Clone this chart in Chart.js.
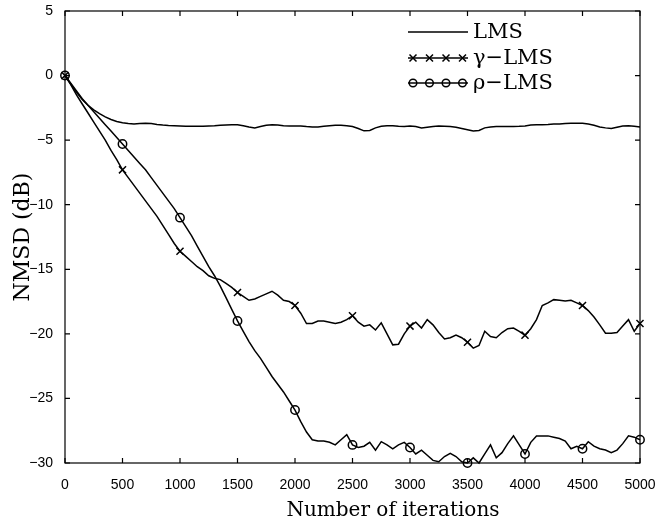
<!DOCTYPE html>
<html><head><meta charset="utf-8">
<script src="https://cdn.jsdelivr.net/npm/chart.js@4"></script>
<style>html,body{margin:0;padding:0;background:#fff}#wrap{width:657px;height:523px}</style>
</head><body><div id="wrap"><canvas id="c"></canvas></div>
<script>
const iterations = Array.from({length: 101}, (_, i) => i * 50);
const xTicks = [0,500,1000,1500,2000,2500,3000,3500,4000,4500,5000];
const yTicks = [5,0,-5,-10,-15,-20,-25,-30];
const seriesNames = ['LMS', '\u03B3\u2212LMS', '\u03C1\u2212LMS'];
const xTitle = 'Number of iterations';
const yTitle = 'NMSD (dB)';

const lms = [0,-0.65,-1.3,-1.85,-2.3,-2.65,-2.95,-3.2,-3.4,-3.55,-3.65,-3.72,-3.75,-3.72,-3.7,-3.72,-3.78,-3.83,-3.86,-3.88,
-3.9,-3.92,-3.93,-3.92,-3.93,-3.9,-3.88,-3.85,-3.82,-3.8,-3.8,-3.88,-3.98,-4.05,-3.95,-3.85,-3.8,-3.82,-3.88,-3.9,
-3.9,-3.9,-3.95,-3.98,-3.98,-3.92,-3.88,-3.85,-3.85,-3.88,-3.95,-4.1,-4.28,-4.25,-4.05,-3.92,-3.88,-3.88,-3.92,-3.95,
-3.9,-3.95,-4.05,-4.0,-3.95,-3.9,-3.92,-3.95,-4.0,-4.1,-4.2,-4.3,-4.25,-4.05,-3.98,-3.95,-3.95,-3.95,-3.95,-3.93,
-3.9,-3.82,-3.8,-3.8,-3.78,-3.75,-3.75,-3.72,-3.7,-3.7,-3.7,-3.75,-3.85,-3.98,-4.05,-4.1,-4.0,-3.9,-3.88,-3.92,-3.98];

const gammaLms = [0,-0.7,-1.5,-2.2,-2.9,-3.6,-4.3,-5.0,-5.8,-6.5,-7.3,-7.9,-8.5,-9.1,-9.7,-10.3,-10.9,-11.6,-12.3,-13.0,
-13.6,-14.0,-14.4,-14.8,-15.1,-15.5,-15.7,-15.8,-16.1,-16.4,-16.8,-17.1,-17.4,-17.3,-17.1,-16.9,-16.7,-17.0,-17.4,-17.5,
-17.8,-18.4,-19.2,-19.2,-19.0,-19.0,-19.1,-19.2,-19.1,-18.9,-18.6,-19.1,-19.4,-19.3,-19.7,-19.15,-20.0,-20.85,-20.8,-20.0,
-19.4,-19.1,-19.55,-18.9,-19.3,-19.9,-20.4,-20.3,-20.1,-20.3,-20.65,-21.1,-20.9,-19.8,-20.2,-20.3,-19.9,-19.6,-19.55,-19.8,
-20.1,-19.6,-18.9,-17.8,-17.6,-17.35,-17.4,-17.45,-17.4,-17.6,-17.8,-18.2,-18.7,-19.3,-19.95,-19.95,-19.9,-19.4,-18.9,-19.8,-19.2];

const rhoLms = [0,-0.6,-1.2,-1.8,-2.3,-2.8,-3.3,-3.8,-4.3,-4.8,-5.3,-5.8,-6.3,-6.8,-7.3,-7.9,-8.5,-9.1,-9.7,-10.3,
-11.0,-11.7,-12.4,-13.2,-14.0,-14.8,-15.5,-16.3,-17.2,-18.1,-19.0,-19.8,-20.6,-21.3,-21.9,-22.6,-23.3,-23.9,-24.5,-25.2,
-25.9,-26.8,-27.6,-28.2,-28.3,-28.3,-28.4,-28.6,-28.2,-27.8,-28.6,-28.8,-28.7,-28.4,-29.0,-28.35,-28.6,-28.9,-28.6,-28.4,
-28.8,-29.3,-29.0,-29.4,-29.8,-29.9,-29.5,-29.25,-29.5,-29.9,-30.0,-29.6,-30.0,-29.3,-28.6,-29.6,-29.2,-28.5,-27.9,-28.6,
-29.3,-28.4,-27.9,-27.9,-27.9,-28.0,-28.1,-28.3,-28.9,-28.7,-28.9,-28.35,-28.7,-28.9,-29.0,-29.2,-29.0,-28.5,-27.9,-28.0,-28.2];

const toXY = arr => arr.map((v, i) => ({x: iterations[i], y: v}));
const markEvery = r => ctx => (iterations[ctx.dataIndex] % 500 === 0 ? r : 0);

const frame = {
  id: 'frame',
  afterDraw(chart) {
    const {ctx, chartArea: a, scales} = chart;
    ctx.save();
    ctx.strokeStyle = '#000';
    ctx.lineWidth = 1.2;
    ctx.strokeRect(a.left, a.top, a.right - a.left, a.bottom - a.top);
    const L = 5;
    ctx.beginPath();
    xTicks.forEach(v => {
      const px = scales.x.getPixelForValue(v);
      ctx.moveTo(px, a.bottom); ctx.lineTo(px, a.bottom - L);
      ctx.moveTo(px, a.top); ctx.lineTo(px, a.top + L);
    });
    yTicks.forEach(v => {
      const py = scales.y.getPixelForValue(v);
      ctx.moveTo(a.left, py); ctx.lineTo(a.left + L, py);
      ctx.moveTo(a.right, py); ctx.lineTo(a.right - L, py);
    });
    ctx.stroke();
    ctx.fillStyle = '#000';
    // x-axis title (sits right of centre in the original)
    ctx.font = '20px "DejaVu Serif"';
    ctx.textAlign = 'center';
    ctx.textBaseline = 'alphabetic';
    ctx.fillText(xTitle, 393, 516);
    // y-axis title
    ctx.save();
    ctx.translate(29, (a.top + a.bottom) / 2);
    ctx.rotate(-Math.PI / 2);
    ctx.font = '22px "DejaVu Serif"';
    ctx.fillText(yTitle, 0, 0);
    ctx.restore();
    // legend
    const lx0 = 408, lx1 = 468, tx = 473;
    const rows = [32, 58, 83];
    ctx.font = '21px "DejaVu Serif"';
    ctx.textAlign = 'left';
    ctx.textBaseline = 'middle';
    ctx.lineWidth = 1.5;
    rows.forEach((y, k) => {
      ctx.beginPath(); ctx.moveTo(lx0, y); ctx.lineTo(lx1, y); ctx.stroke();
      if (k > 0) {
        for (let j = 0; j < 4; j++) {
          const cx = lx0 + 5 + j * 16.5;
          ctx.beginPath();
          if (k === 1) {
            ctx.moveTo(cx - 3.5, y - 3.5); ctx.lineTo(cx + 3.5, y + 3.5);
            ctx.moveTo(cx - 3.5, y + 3.5); ctx.lineTo(cx + 3.5, y - 3.5);
          } else {
            ctx.arc(cx, y, 3.8, 0, Math.PI * 2);
          }
          ctx.stroke();
        }
      }
      ctx.fillText(seriesNames[k], tx, y + 1);
    });
    ctx.restore();
  }
};

const common = {borderColor: '#000', backgroundColor: 'rgba(0,0,0,0)', borderWidth: 1.5, tension: 0, clip: false, pointBorderColor: '#000', pointBorderWidth: 1.5, pointHoverRadius: 0};

new Chart(document.getElementById('c'), {
  type: 'line',
  data: {
    datasets: [
      Object.assign({label: seriesNames[0], data: toXY(lms), pointRadius: 0}, common),
      Object.assign({label: seriesNames[1], data: toXY(gammaLms), pointRadius: markEvery(5), pointStyle: 'crossRot'}, common),
      Object.assign({label: seriesNames[2], data: toXY(rhoLms), pointRadius: markEvery(4.2), pointStyle: 'circle'}, common)
    ]
  },
  options: {
    responsive: true, maintainAspectRatio: false, animation: false,
    layout: {padding: {top: 11, right: 17, left: 0, bottom: 0}},
    plugins: {legend: {display: false}, tooltip: {enabled: false}},
    scales: {
      x: {
        type: 'linear', min: 0, max: 5000,
        afterBuildTicks: s => { s.ticks = xTicks.map(v => ({value: v})); },
        afterFit: s => { s.height = 60; s.paddingRight = 0; s.paddingLeft = 0; },
        grid: {display: false}, border: {display: false},
        ticks: {color: '#000', font: {family: '"Liberation Sans"', size: 14}, padding: 6, maxRotation: 0,
                callback: v => String(v)}
      },
      y: {
        min: -30, max: 5,
        afterBuildTicks: s => { s.ticks = yTicks.map(v => ({value: v})); },
        afterFit: s => { s.width = 65; s.paddingTop = 0; s.paddingBottom = 0; },
        grid: {display: false}, border: {display: false},
        ticks: {color: '#000', font: {family: '"Liberation Sans"', size: 14}, padding: 4,
                callback: v => (v < 0 ? '\u2212' + Math.abs(v) : String(v))}
      }
    }
  },
  plugins: [frame]
});
</script></body></html>
